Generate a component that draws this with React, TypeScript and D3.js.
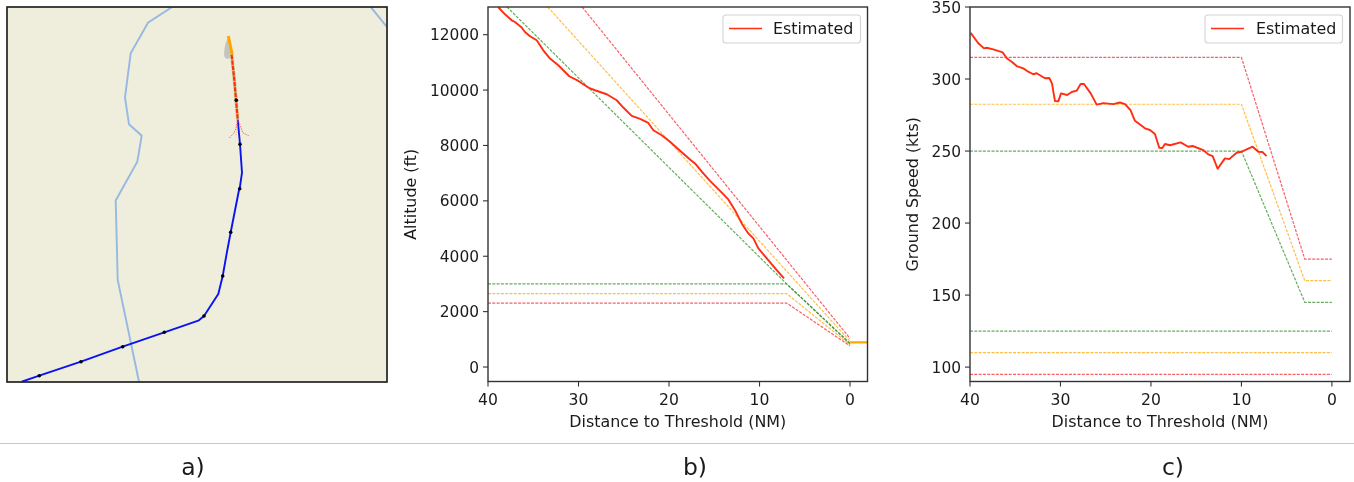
import React from "react";
import * as d3 from "d3";

type P = [number, number];
const FONT = "'DejaVu Sans', sans-serif";
const RED = "#ff2d12";
const ORANGE = "#ffa500";
const GREEN = "#2e8b22";
const LIMIT_RED = "#f5222d";

// Altitude profile: [distance NM, altitude ft]
const altEstimated: P[] = [[38.86,12990],[38.12,12736],[37.38,12520],[37.02,12458],[36.28,12256],[35.91,12098],[35.36,11943],[34.62,11798],[33.89,11437],[33.15,11138],[32.23,10896],[31.02,10499],[30.02,10330],[28.92,10092],[28.18,9994],[26.88,9850],[25.78,9633],[25.05,9370],[24.12,9067],[23.2,8959],[22.29,8814],[21.73,8551],[20.81,8371],[19.89,8136],[18.78,7811],[17.68,7494],[17.13,7350],[16.21,6989],[15.47,6722],[14.36,6361],[13.45,6051],[12.71,5665],[11.97,5185],[11.24,4824],[10.68,4643],[10.13,4283],[9.2,3922],[8.1,3500],[7.29,3200]];
const altGround: P[] = [[0,890],[-1.93,890]];
const altRedUpper: P[] = [[29.6,13000],[0,1030]];
const altOrangeUpper: P[] = [[33.4,13000],[0,930]];
const altGreenUpper: P[] = [[37.9,13000],[7,3000],[0,860]];
const altRedLower: P[] = [[40,2310],[7,2310],[0,760]];
const altOrangeLower: P[] = [[40,2650],[7,2650],[0,800]];
const altGreenLower: P[] = [[40,3000],[7,3000],[0,830]];

// Ground speed profile: [distance NM, speed kts]
const gsEstimated: P[] = [[39.95,332],[39.89,331.7],[39.08,324.8],[38.45,321.3],[38.15,321.7],[37.43,320.6],[36.39,318.5],[35.94,314.4],[35.39,312],[34.84,309],[34.11,307.4],[33.56,305.1],[33.01,303.3],[32.63,304],[31.71,300.5],[31.24,300.7],[30.94,297],[30.61,284.7],[30.24,284.5],[29.94,290],[29.25,288.9],[28.76,291],[28.21,291.9],[27.77,296.5],[27.4,296.5],[26.66,290],[26,282.2],[25.27,283.3],[24.17,282.6],[23.43,283.7],[22.87,282.6],[22.27,278.5],[21.77,271],[20.66,265.8],[20.11,264.6],[19.56,261.8],[19.08,252.3],[18.75,252.1],[18.45,254.9],[17.9,254],[16.72,256],[15.88,253],[15.39,253.5],[14.22,250.7],[13.67,247.7],[13.18,246.5],[12.63,237.7],[11.82,244.9],[11.35,244.4],[10.53,248.8],[10.02,249.5],[8.76,253],[8.14,249.5],[7.66,249.3],[7.22,246.5]];
const gsRedUpper: P[] = [[40,315],[10,315],[3,175],[0,175]];
const gsOrangeUpper: P[] = [[40,282.5],[10,282.5],[3,160],[0,160]];
const gsGreenUpper: P[] = [[40,250],[10,250],[3,145],[0,145]];
const gsRedLower: P[] = [[40,95],[0,95]];
const gsOrangeLower: P[] = [[40,110],[0,110]];
const gsGreenLower: P[] = [[40,125],[0,125]];

// Map layer, in map units
const riverWest: P[] = [[164.7,0.3],[141,15.7],[123.7,46.3],[118,90.3],[122,117.3],[134.7,128.7],[130.3,154.7],[109,193],[108.7,193.7],[110.7,273],[132,374.7]];
const riverEast: P[] = [[364,0.3],[379.7,19.7]];
const route: P[] = [[14.7,374.7],[32.3,368.7],[74,354.7],[115.7,339.7],[157.3,325.3],[191.3,313.7],[197,309],[211.3,287],[215.7,269],[219.7,246.3],[223.7,225.3],[232,183],[232.7,181.7],[235,165.7],[233,137.3],[230.7,112.3]];
const routeMarks: P[] = [[32.3,368.7],[74,354.7],[115.7,339.7],[157.3,325.3],[197,309],[215.7,269],[223.7,225.3],[232.7,181.7],[233,137.3],[229.3,93.3]];
const corridor: P[] = [[224.7,48],[227.5,75],[230.7,112.3]];
const holding: P[] = [[221.3,29],[225.3,48]];
const scatter: P[] = [[221,33],[219,38],[218,45],[218.5,50],[221,51],[224,48],[223,38]];
const funnelLeft: P[] = [[230.7,112],[229,121],[227,126],[222.3,131]];
const funnelRight: P[] = [[230.7,112],[233,118],[235.7,125.7],[241.7,128.7]];
const funnelInner: P[] = [[230.7,112],[230,122],[229,129.7]];

const altTicks = [0, 2000, 4000, 6000, 8000, 10000, 12000];
const gsTicks = [100, 150, 200, 250, 300, 350];
const distTicks = [40, 30, 20, 10, 0];
const captions = ["a)", "b)", "c)"];

const lineOf = (x: d3.ScaleLinear<number, number>, y: d3.ScaleLinear<number, number>) =>
  d3.line<P>().x((d) => x(d[0])).y((d) => y(d[1]));

function Legend({ x, y, textX }: { x: number; y: number; textX: number }) {
  return (
    <g>
      <rect x={x} y={y} width={137.5} height={28} rx={3} fill="#fff" fillOpacity={0.85} stroke="#d4d4d4" strokeWidth={1.1} />
      <line x1={x + 6} x2={x + 39} y1={y + 13.5} y2={y + 13.5} stroke={RED} strokeWidth={1.5} />
      <text x={x + textX} y={y + 19} fontSize={15.9} fontFamily={FONT} fill="#1a1a1a">Estimated</text>
    </g>
  );
}

function Chart(props: {
  left: number; right: number; top: number; bottom: number;
  xDomain: [number, number]; yDomain: [number, number];
  yTicks: number[]; yLabel: string; yLabelX: number;
  uppers: [P[], string][]; lowers: [P[], string][];
  estimated: P[]; ground?: P[];
  legendX: number; legendTextX: number;
}) {
  const { left, right, top, bottom } = props;
  const x = d3.scaleLinear().domain(props.xDomain).range([left, right]);
  const y = d3.scaleLinear().domain(props.yDomain).range([bottom, top]);
  const line = lineOf(x, y);
  const txt = "#1a1a1a";
  return (
    <g fontFamily={FONT}>
      {[...props.uppers, ...props.lowers].map(([d, c], i) => (
        <path key={i} d={line(d)!} fill="none" stroke={c} strokeWidth={1.2} strokeDasharray="3 1.3" strokeOpacity={0.72} />
      ))}
      <path d={line(props.estimated)!} fill="none" stroke={RED} strokeWidth={1.9} strokeLinejoin="round" />
      {props.ground && <path d={line(props.ground)!} fill="none" stroke={ORANGE} strokeWidth={2.2} />}
      <rect x={left} y={top} width={right - left} height={bottom - top} fill="none" stroke="#333" strokeWidth={1.4} />
      {distTicks.map((t) => (
        <g key={t}>
          <line x1={x(t)} x2={x(t)} y1={bottom} y2={bottom + 5} stroke="#333" strokeWidth={1.1} />
          <text x={x(t)} y={bottom + 23} textAnchor="middle" fontSize={15.6} fill={txt}>{t}</text>
        </g>
      ))}
      {props.yTicks.map((t) => (
        <g key={t}>
          <line x1={left - 5} x2={left} y1={y(t)} y2={y(t)} stroke="#333" strokeWidth={1.1} />
          <text x={left - 9} y={y(t) + 5.6} textAnchor="end" fontSize={15.4} fill={txt}>{t}</text>
        </g>
      ))}
      <text x={(left + right) / 2} y={bottom + 45.5} textAnchor="middle" fontSize={15.9} fill={txt}>Distance to Threshold (NM)</text>
      <text transform={`translate(${props.yLabelX},${(top + bottom) / 2}) rotate(-90)`} textAnchor="middle" fontSize={15.9} fill={txt}>{props.yLabel}</text>
      <Legend x={props.legendX} y={15} textX={props.legendTextX} />
    </g>
  );
}

function MapPanel() {
  const x = d3.scaleLinear().domain([0, 380]).range([7, 387]);
  const y = d3.scaleLinear().domain([0, 375]).range([7, 382]);
  const line = lineOf(x, y);
  const closed = d3.line<P>().x((d) => x(d[0])).y((d) => y(d[1])).curve(d3.curveCatmullRomClosed);
  const river = "#96b9e2";
  return (
    <g>
      <defs>
        <clipPath id="mapClip"><rect x={x(0)} y={y(0)} width={x(380) - x(0)} height={y(375) - y(0)} /></clipPath>
      </defs>
      <rect x={x(0)} y={y(0)} width={x(380) - x(0)} height={y(375) - y(0)} fill="#efeddc" />
      <g clipPath="url(#mapClip)">
        <path d={line(riverWest)!} fill="none" stroke={river} strokeWidth={1.9} />
        <path d={line(riverEast)!} fill="none" stroke={river} strokeWidth={1.9} />
        <path d={line(route)!} fill="none" stroke="#0a14f0" strokeWidth={1.9} strokeLinejoin="round" />
        <path d={closed(scatter)!} fill="#c4c4c0" stroke="#c4c4c0" strokeWidth={1.6} />
        <path d={line(holding)!} fill="none" stroke={ORANGE} strokeWidth={3} />
        {[funnelLeft, funnelRight].map((d, i) => (
          <path key={i} d={line(d)!} fill="none" stroke={LIMIT_RED} strokeWidth={0.8} strokeDasharray="1.5 1" strokeOpacity={0.8} />
        ))}
        <path d={line(funnelInner)!} fill="none" stroke={ORANGE} strokeWidth={0.7} strokeDasharray="1.5 1" strokeOpacity={0.7} />
        <path d={line(corridor)!} fill="none" stroke="#c8cf8a" strokeWidth={3.4} strokeOpacity={0.9} />
        <path d={line(corridor)!} fill="none" stroke={RED} strokeWidth={2.2} strokeDasharray="4.5 0.9" />
        {routeMarks.map((d, i) => (
          <circle key={i} cx={x(d[0])} cy={y(d[1])} r={1.8} fill="#000" />
        ))}
      </g>
      <rect x={x(0)} y={y(0)} width={x(380) - x(0)} height={y(375) - y(0)} fill="none" stroke="#222" strokeWidth={1.7} />
    </g>
  );
}

export default function App() {
  return (
    <svg width={1354} height={482} style={{ position: "absolute", left: 0, top: 0, background: "#fff", filter: "blur(0.35px)" }}>
      <MapPanel />
      <Chart
        left={488} right={867.5} top={7} bottom={381.5}
        xDomain={[40, -1.93]} yDomain={[-523, 13000]}
        yTicks={altTicks} yLabel="Altitude (ft)" yLabelX={416}
        uppers={[[altRedUpper, LIMIT_RED], [altOrangeUpper, ORANGE], [altGreenUpper, GREEN]]}
        lowers={[[altRedLower, LIMIT_RED], [altOrangeLower, ORANGE], [altGreenLower, GREEN]]}
        estimated={altEstimated} ground={altGround} legendX={723} legendTextX={50}
      />
      <Chart
        left={970} right={1350} top={7} bottom={381.5}
        xDomain={[40, -2]} yDomain={[90, 350]}
        yTicks={gsTicks} yLabel="Ground Speed (kts)" yLabelX={918}
        uppers={[[gsRedUpper, LIMIT_RED], [gsOrangeUpper, ORANGE], [gsGreenUpper, GREEN]]}
        lowers={[[gsRedLower, LIMIT_RED], [gsOrangeLower, ORANGE], [gsGreenLower, GREEN]]}
        estimated={gsEstimated} legendX={1205} legendTextX={51}
      />
      <line x1={0} x2={1354} y1={443.5} y2={443.5} stroke="#c8c8c8" strokeWidth={1} />
      {captions.map((c, i) => (
        <text key={c} x={[193, 695, 1173][i]} y={475} textAnchor="middle" fontSize={23.5} fontFamily={FONT} fill="#1a1a1a">{c}</text>
      ))}
    </svg>
  );
}
